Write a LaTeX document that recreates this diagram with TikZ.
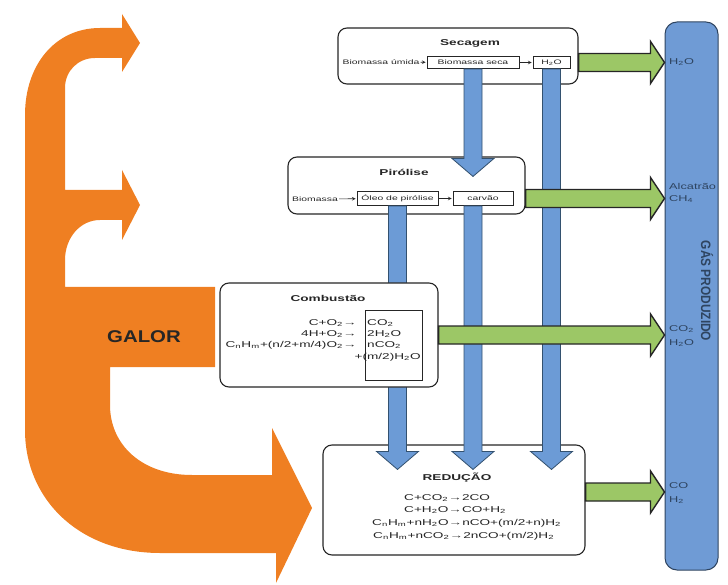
\documentclass[tikz,border=0pt]{standalone}
\usepackage{fontspec}
\setmainfont{Liberation Sans}
\usetikzlibrary{calc}
\definecolor{orng}{HTML}{EF7F22}
\definecolor{bluef}{HTML}{6C9BD6}
\definecolor{blued}{HTML}{33516F}
\definecolor{greenf}{HTML}{9CC766}
\definecolor{barf}{HTML}{6F9BD5}
\definecolor{bard}{HTML}{2E4460}
\definecolor{ink}{HTML}{262626}
\newcommand{\su}[1]{\textsubscript{#1}}
\newcommand{\hs}[1]{\scalebox{1.6}[1]{#1}}
\newcommand{\bluedown}[2]{%
  \filldraw[bluearr] let \p1=(#1), \p2=(#2) in
  (\x1-9pt,\y1) -- (\x1-9pt,\y2+18pt) -- (\x1-21pt,\y2+18pt) -- (\x1,\y2)
  -- (\x1+21pt,\y2+18pt) -- (\x1+9pt,\y2+18pt) -- (\x1+9pt,\y1) -- cycle;}
\newcommand{\greenright}[2]{%
  \filldraw[greenarr] let \p1=(#1), \p2=(#2) in
  (\x1,\y1+9pt) -- (\x2-14pt,\y1+9pt) -- (\x2-14pt,\y1+21pt) -- (\x2,\y1)
  -- (\x2-14pt,\y1-21pt) -- (\x2-14pt,\y1-9pt) -- (\x1,\y1-9pt) -- cycle;}
\tikzset{
  box/.style={draw=ink, line width=1.1pt, rounded corners=9pt, fill=white, inner sep=0pt},
  sbox/.style={draw=ink, line width=0.9pt, fill=white, inner sep=0pt, minimum height=12pt,
    font=\fontsize{6.5}{7}\selectfont, text=ink},
  ttl/.style={font=\bfseries\fontsize{8.5}{9}\selectfont, text=ink, inner sep=0pt},
  rowtxt/.style={font=\fontsize{6.5}{7}\selectfont, text=ink, inner sep=0pt},
  eq/.style={font=\fontsize{8.5}{9}\selectfont, text=ink, inner sep=0pt},
  bluearr/.style={fill=bluef, draw=blued, line width=0.8pt, line join=miter},
  greenarr/.style={fill=greenf, draw=ink, line width=1.4pt},
  smallarr/.style={->, >=stealth, draw=ink, line width=0.6pt, shorten >=1pt, shorten <=1pt},
  barlbl/.style={font=\fontsize{8.5}{9}\selectfont, text=bard, inner sep=0pt, anchor=west},
}
\begin{document}
\begin{tikzpicture}[x=1pt,y=-1pt]
\useasboundingbox (0,0) rectangle (728,585);
% heat arrow
\fill[orng] (140,43) -- (122,72) -- (122,58) -- (95,58)
  .. controls (78,58) and (65,71) .. (65,88) -- (65,190) -- (122,190) -- (122,170)
  -- (140,205) -- (122,240) -- (122,220) -- (100,220)
  .. controls (80,220) and (65,238) .. (65,260) -- (65,287) -- (215,287) -- (215,367)
  -- (110,367) -- (110,405) .. controls (110,445) and (142,475) .. (192,475)
  -- (272,475) -- (272,428) -- (312,508) -- (276,583) -- (276,553) -- (160,553)
  .. controls (80,553) and (25,500) .. (25,430) -- (25,115)
  .. controls (25,65) and (55,28) .. (100,28) -- (122,28) -- (122,14) -- cycle;
\node[font=\bfseries\fontsize{17}{18}\selectfont, text=ink] (galor) at (144,337) {\scalebox{1.2}[1]{GALOR}};

% produced gas bar
\node[draw=bard, line width=1pt, fill=barf, rounded corners=12pt, minimum width=53pt,
  minimum height=548pt, inner sep=0pt] (bar) at (691.5,296) {};

% Secagem
\node[box, minimum width=240pt, minimum height=56pt] (sec) at (458,56) {};
\node[ttl] (secT) at (470,43) {\hs{Secagem}};
\node[rowtxt] (bu) at (381,62) {\hs{Biomassa úmida}};
\node[sbox, minimum width=92pt] (bs) at (473,62.5) {\hs{Biomassa seca}};
\node[sbox, minimum width=37pt] (h2o) at (551.5,62.5) {\hs{H\su{2}O}};
\draw[smallarr] (bu) -- (bs);
\draw[smallarr] (bs) -- (h2o);

% Pirolise
\node[box, minimum width=237pt, minimum height=57pt] (piro) at (406.5,185.5) {};
\node[ttl] (piroT) at (404,172) {\hs{Pirólise}};
\node[rowtxt] (bio) at (315,199) {\hs{Biomassa}};
\node[sbox, minimum width=81pt, minimum height=14pt] (oleo) at (397.5,198.5) {\hs{Óleo de pirólise}};
\node[sbox, minimum width=60pt, minimum height=14pt] (carv) at (483,198.5) {\hs{carvão}};
\draw[smallarr] (bio) -- (oleo);
\draw[smallarr] (oleo) -- (carv);

% Reducao box
\node[box, minimum width=262pt, minimum height=110pt] (red) at (454,500) {};

% blue flows
\bluedown{bs.south}{$(piro.north)+(0,20)$}
\bluedown{h2o.south}{$(red.north)+(0,25)$}
\bluedown{oleo.south}{$(red.north)+(0,25)$}
\bluedown{$(carv.south)+(-10,0)$}{$(red.north)+(0,25)$}

% Combustao
\node[box, minimum width=218pt, minimum height=104pt] (comb) at (329,335) {};
\node[ttl] (combT) at (328,298) {\hs{Combustão}};
\node[draw=ink, line width=0.9pt, fill=white, minimum width=57pt, minimum height=70pt,
  inner sep=0pt] (inner) at (393.5,345) {};
\node[eq, anchor=east] (c1) at (357,323) {\hs{C+O\su{2}→}};
\node[eq, anchor=east] (c2) at (357,334) {\hs{4H+O\su{2}→}};
\node[eq, anchor=east] (c3) at (357,345) {\hs{C\su{n}H\su{m}+(n/2+m/4)O\su{2}→}};
\node[eq, anchor=west] (p1) at (367,323) {\hs{CO\su{2}}};
\node[eq, anchor=west] (p2) at (367,334) {\hs{2H\su{2}O}};
\node[eq, anchor=west] (p3) at (367,345) {\hs{nCO\su{2}}};
\node[eq, anchor=east] (p4) at (421,357) {\hs{+(m/2)H\su{2}O}};

% Reducao content
\node[ttl] (redT) at (457,478) {\hs{REDUÇÃO}};
\node[eq, anchor=west] (r1) at (404,498) {\hs{C+CO\su{2}→2CO}};
\node[eq, anchor=west] (r2) at (404,510) {\hs{C+H\su{2}O→CO+H\su{2}}};
\node[eq, anchor=west] (r3) at (372,523) {\hs{C\su{n}H\su{m}+nH\su{2}O→nCO+(m/2+n)H\su{2}}};
\node[eq, anchor=west] (r4) at (373,536) {\hs{C\su{n}H\su{m}+nCO\su{2}→2nCO+(m/2)H\su{2}}};

% green outputs
\greenright{sec.east |- h2o.east}{bar.west}
\greenright{piro.east |- carv.east}{bar.west}
\greenright{comb.east}{bar.west}
\greenright{$(red.east)+(0,-8)$}{bar.west}

% bar labels
\node[barlbl] (l1) at (669,62) {\scalebox{1.5}[1]{H\su{2}O}};
\node[barlbl] (l2) at (669,186) {\scalebox{1.5}[1]{Alcatrão}};
\node[barlbl] (l3) at (669,199) {\scalebox{1.5}[1]{CH\su{4}}};
\node[barlbl] (l4) at (669,329) {\scalebox{1.5}[1]{CO\su{2}}};
\node[barlbl] (l5) at (669,343) {\scalebox{1.5}[1]{H\su{2}O}};
\node[barlbl] (l6) at (669,486) {\scalebox{1.5}[1]{CO}};
\node[barlbl] (l7) at (669,500) {\scalebox{1.5}[1]{H\su{2}}};
\node[rotate=-90, font=\bfseries\fontsize{8.5}{9}\selectfont, text=bard, inner sep=0pt] (gas)
  at (707,291) {\scalebox{1.4}[1.6]{GÁS PRODUZIDO}};
\end{tikzpicture}
\end{document}
